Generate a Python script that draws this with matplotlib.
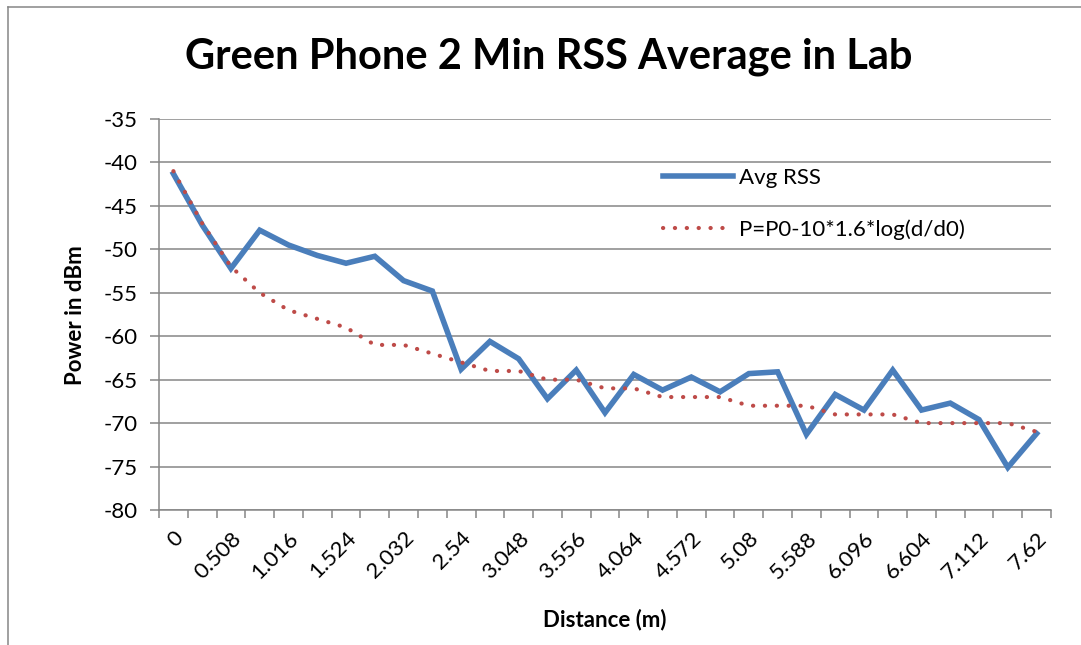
import matplotlib
matplotlib.use("Agg")
import matplotlib.pyplot as plt
from matplotlib.lines import Line2D

# distance categories (m)
distances = ["0", "0.254", "0.508", "0.762", "1.016", "1.27", "1.524", "1.778",
             "2.032", "2.286", "2.54", "2.794", "3.048", "3.302", "3.556", "3.81",
             "4.064", "4.318", "4.572", "4.826", "5.08", "5.334", "5.588", "5.842",
             "6.096", "6.35", "6.604", "6.858", "7.112", "7.366", "7.62"]

avg_rss = [-41.3, -47.2, -52.2, -47.8, -49.5, -50.7, -51.6, -50.8, -53.6, -54.8,
           -63.8, -60.6, -62.6, -67.2, -63.9, -68.8, -64.4, -66.2, -64.7, -66.4,
           -64.3, -64.1, -71.3, -66.7, -68.5, -63.9, -68.5, -67.7, -69.6, -75.1,
           -71.2]

model = [-41, -47, -52, -55, -57, -58, -59, -61, -61, -62,
         -63, -64, -64, -65, -65, -66, -66, -67, -67, -67,
         -68, -68, -68, -69, -69, -69, -70, -70, -70, -70,
         -71]

W, H = 1081, 645
plt.rcParams['font.family'] = ['Lato', 'DejaVu Sans']
plt.rcParams['axes.unicode_minus'] = False
fig = plt.figure(figsize=(W / 100, H / 100), dpi=100)
ax = fig.add_axes([159 / W, 1 - 510 / H, (1051 - 159) / W, (510 - 119) / H])

grey = '#868686'
x = list(range(len(distances)))
ax.plot(x, avg_rss, color='#4A7EBB', lw=4.0, solid_joinstyle='miter', label='Avg RSS', zorder=3)
ax.plot(x, model, color='#BE4B48', lw=3.0, linestyle=(0, (0.05, 2.8)),
        dash_capstyle='round', label='P=P0-10*1.6*log(d/d0)', zorder=4)

ax.set_xlim(-0.5, len(distances) - 0.5)
ax.set_ylim(-80, -35)
ax.set_yticks(range(-80, -34, 5))
ax.yaxis.grid(True, color=grey, lw=1.1)
ax.set_axisbelow(True)

ax.set_xticks(x[::2])
ax.set_xticklabels(distances[::2], rotation=45, ha='right', va='top',
                   rotation_mode='anchor', fontsize=16)
ax.set_xticks([i - 0.5 for i in range(len(distances) + 1)], minor=True)
ax.tick_params(axis='x', which='major', length=0, pad=13)
ax.tick_params(axis='x', which='minor', length=6, width=1.1, color=grey)
ax.tick_params(axis='y', length=6.5, width=1.1, color=grey, labelsize=16, pad=9)

for s in ['top', 'right']:
    ax.spines[s].set_visible(False)
for s in ['left', 'bottom']:
    ax.spines[s].set_color(grey)
    ax.spines[s].set_linewidth(1.1)

fig.text(549 / W, 1 - 68 / H, 'Green Phone 2 Min RSS Average in Lab',
         ha='center', va='baseline', fontsize=30, fontweight='bold')
fig.text(76 / W, 1 - 315 / H, 'Power in dBm', rotation=90, ha='center', va='center',
         fontsize=16, fontweight='bold')
fig.text(605 / W, 1 - 620 / H, 'Distance (m)', ha='center', va='center',
         fontsize=16, fontweight='bold')

ax.legend(loc='upper left', bbox_to_anchor=(663 / W, 1 - 168 / H),
          bbox_transform=fig.transFigure, frameon=False, fontsize=16,
          handlelength=3.15, handletextpad=0.25, labelspacing=1.4, borderaxespad=0,
          borderpad=0)

# chart border (top and left visible)
fig.add_artist(Line2D([8 / W, 1], [1 - 7 / H, 1 - 7 / H], color=grey, lw=1.1,
                      transform=fig.transFigure))
fig.add_artist(Line2D([8 / W, 8 / W], [1 - 7 / H, 0], color=grey, lw=1.1,
                      transform=fig.transFigure))

fig.savefig('out.png', dpi=100)
